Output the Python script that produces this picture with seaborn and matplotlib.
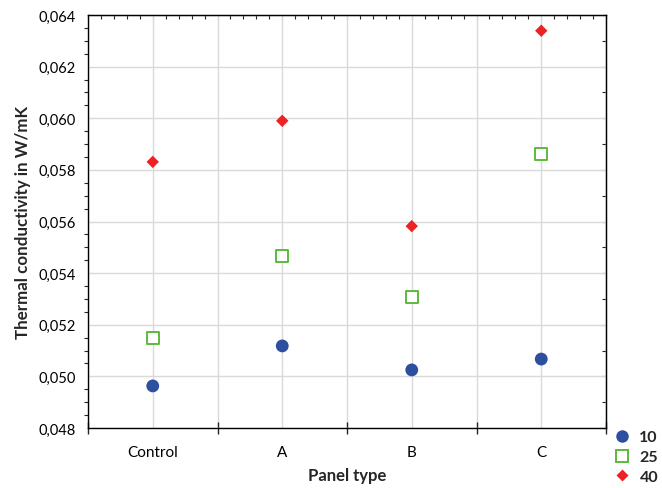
import matplotlib
matplotlib.use("Agg")
import matplotlib.pyplot as plt
import seaborn as sns
import pandas as pd
from matplotlib.ticker import MultipleLocator, FuncFormatter, NullFormatter
from matplotlib.lines import Line2D

categories = ["Control", "A", "B", "C"]
series_names = ["10", "25", "40"]
vals_10 = [0.04963, 0.05118, 0.05025, 0.05067]
vals_25 = [0.05149, 0.05467, 0.05306, 0.05862]
vals_40 = [0.05831, 0.05990, 0.05582, 0.06339]

colors = {"10": "#2D4FA0", "25": "#5BBB3C", "40": "#EC2224"}

rows = []
for name, vals in zip(series_names, [vals_10, vals_25, vals_40]):
    for c, v in zip(categories, vals):
        rows.append({"Panel type": c, "value": v, "series": name})
df = pd.DataFrame(rows)

sns.set_style("white")
plt.rcParams["font.family"] = ["Lato", "DejaVu Sans"]

fig = plt.figure(figsize=(6.62, 4.89), dpi=100)
ax = fig.add_axes([88/662, 1-429/489, (606-88)/662, (429-16)/489])

d10 = df[df.series == "10"]
d25 = df[df.series == "25"]
d40 = df[df.series == "40"]
sns.scatterplot(data=d10, x="Panel type", y="value", ax=ax, color=colors["10"],
                marker="o", s=85, edgecolor="none", zorder=3, legend=False)
sns.scatterplot(data=d25, x="Panel type", y="value", ax=ax, facecolor="white",
                marker="s", s=85, edgecolor=colors["25"], linewidth=1.4, zorder=3, legend=False)
sns.scatterplot(data=d40, x="Panel type", y="value", ax=ax, color=colors["40"],
                marker="D", s=40, edgecolor="none", zorder=3, legend=False)

ax.set_xlim(-0.5, 3.5)
ax.set_ylim(0.048, 0.064)
ax.set_xticks(range(len(categories)))
ax.set_xticklabels(categories)
ax.xaxis.set_minor_locator(MultipleLocator(0.5))
ax.yaxis.set_major_locator(MultipleLocator(0.002))
ax.yaxis.set_minor_locator(MultipleLocator(0.0005))
ax.yaxis.set_major_formatter(FuncFormatter(lambda v, p: f"{v:.3f}".replace(".", ",")))

ax.grid(True, which="major", color="#D9D9D9", linewidth=1.0, zorder=0)
ax.grid(True, which="minor", axis="x", color="#D9D9D9", linewidth=1.0, zorder=0)
ax.set_axisbelow(True)

for sp in ax.spines.values():
    sp.set_color("black")
    sp.set_linewidth(1.0)

ax.tick_params(axis="both", which="major", direction="out", length=5, width=1,
               labelsize=10.5, colors="black", pad=4)
ax.tick_params(axis="x", which="major", direction="inout", length=8, pad=8, labelsize=11)
ax.tick_params(axis="y", which="minor", direction="out", length=3, width=0.8, left=True)
ax.tick_params(axis="x", which="minor", direction="inout", length=8, width=1, bottom=True)

# inward ticks on top and right
top = ax.secondary_xaxis("top")
top.xaxis.set_major_locator(MultipleLocator(0.1))
top.xaxis.set_major_formatter(NullFormatter())
top.tick_params(direction="in", length=3, width=0.8)
right = ax.secondary_yaxis("right")
right.yaxis.set_major_locator(MultipleLocator(0.001))
right.yaxis.set_major_formatter(NullFormatter())
right.tick_params(direction="in", length=3, width=0.8)

ax.set_xlabel("Panel type", fontsize=12, fontweight="bold", labelpad=6)
ax.set_ylabel("Thermal conductivity in W/mK", fontsize=12.2, fontweight="bold", labelpad=5)

handles = [
    Line2D([], [], linestyle="none", marker="o", markersize=9, markerfacecolor=colors["10"], markeredgecolor="none"),
    Line2D([], [], linestyle="none", marker="s", markersize=9, markerfacecolor="white", markeredgecolor=colors["25"], markeredgewidth=1.4),
    Line2D([], [], linestyle="none", marker="D", markersize=6.5, markerfacecolor=colors["40"], markeredgecolor="none"),
]
leg = fig.legend(handles, series_names, loc="lower right", bbox_to_anchor=(1.0, 0.0),
                 frameon=False, prop={"weight": "bold", "size": 11.5},
                 handlelength=1.0, handletextpad=0.6, labelspacing=0.35,
                 borderaxespad=0.0, borderpad=0.25)

fig.savefig("out.png", dpi=100)
